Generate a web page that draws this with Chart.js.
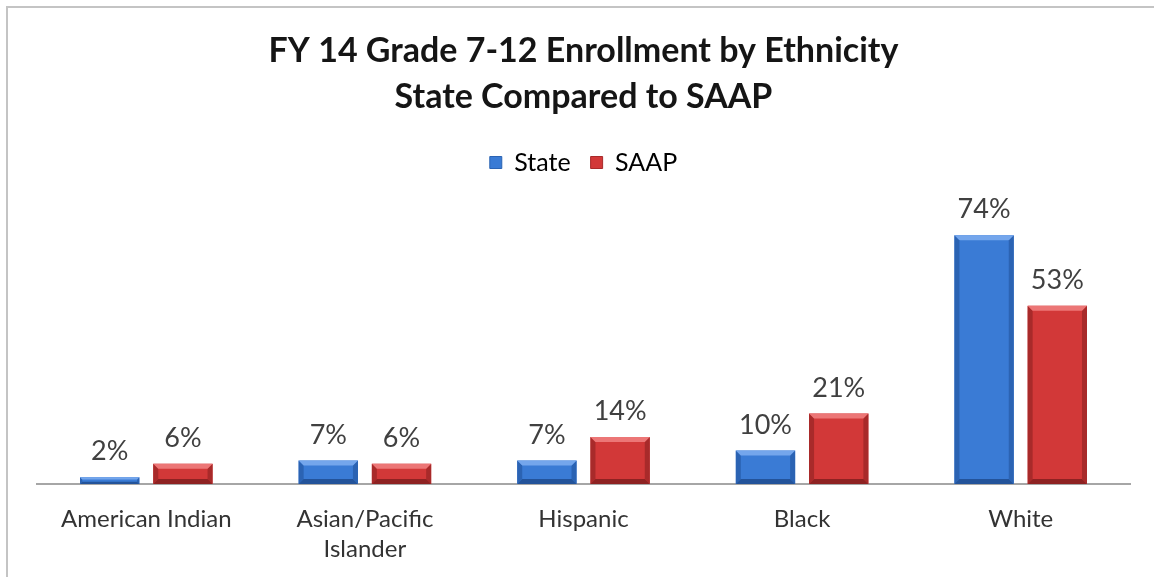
<!DOCTYPE html>
<html lang="en">
<head>
<meta charset="UTF-8">
<title>FY 14 Grade 7-12 Enrollment by Ethnicity</title>
<script src="https://cdn.jsdelivr.net/npm/chart.js"></script>
<style>
    html, body { margin: 0; padding: 0; background: #fff; }
    #wrap { width: 1154px; height: 577px; position: relative; }
</style>
</head>
<body>
<div id="wrap"><canvas id="enrollChart"></canvas></div>
<script>
// --- data ---
const categories = ['American Indian', ['Asian/Pacific', 'Islander'], 'Hispanic', 'Black', 'White'];
const stateShare = [2, 7, 7, 10, 74];
const saapShare = [6, 6, 14, 21, 53];
const seriesNames = ['State', 'SAAP'];

const FONT = 'Lato, "Open Sans", sans-serif';

// colours for the bevelled bars: base, light top, dark sides
const shades = {
    State: { base: '#3a7bd5', top: '#74a6ec', side: '#2b63b3', bottom: '#23539a' },
    SAAP:  { base: '#d23838', top: '#ec7676', side: '#a82a2a', bottom: '#8e2222' }
};

// thin frame along the top and left edge
const framePlugin = {
    id: 'frame',
    beforeDraw(chart) {
        const ctx = chart.ctx;
        ctx.save();
        ctx.strokeStyle = '#c4c4c4';
        ctx.lineWidth = 2;
        ctx.beginPath();
        ctx.moveTo(7, chart.height);
        ctx.lineTo(7, 7);
        ctx.lineTo(chart.width, 7);
        ctx.stroke();
        ctx.restore();
    }
};

// extra room under the legend before the plot starts
const legendGap = {
    id: 'legendGap',
    beforeInit(chart) {
        const fit = chart.legend.fit;
        chart.legend.fit = function () {
            fit.call(this);
            this.height += 30;
        };
    }
};

// bevel edges on each bar plus the value label above it
const bevelPlugin = {
    id: 'bevel',
    afterDatasetsDraw(chart) {
        const ctx = chart.ctx;
        chart.data.datasets.forEach((ds, di) => {
            const c = shades[ds.label];
            chart.getDatasetMeta(di).data.forEach((bar, i) => {
                const { x, y, base, width } = bar.getProps(['x', 'y', 'base', 'width'], true);
                const l = x - width / 2, r = x + width / 2;
                const h = base - y;
                const b = Math.min(5, h / 3);
                ctx.save();
                // sides
                ctx.fillStyle = c.side;
                ctx.beginPath();
                ctx.moveTo(l, y); ctx.lineTo(l + b, y + b); ctx.lineTo(l + b, base - b); ctx.lineTo(l, base);
                ctx.closePath(); ctx.fill();
                ctx.beginPath();
                ctx.moveTo(r, y); ctx.lineTo(r - b, y + b); ctx.lineTo(r - b, base - b); ctx.lineTo(r, base);
                ctx.closePath(); ctx.fill();
                // top highlight
                ctx.fillStyle = c.top;
                ctx.beginPath();
                ctx.moveTo(l, y); ctx.lineTo(r, y); ctx.lineTo(r - b, y + b); ctx.lineTo(l + b, y + b);
                ctx.closePath(); ctx.fill();
                // bottom shade
                ctx.fillStyle = c.bottom;
                ctx.beginPath();
                ctx.moveTo(l, base); ctx.lineTo(r, base); ctx.lineTo(r - b, base - b); ctx.lineTo(l + b, base - b);
                ctx.closePath(); ctx.fill();
                // value label
                ctx.fillStyle = '#404040';
                ctx.font = '27px ' + FONT;
                ctx.textAlign = 'center';
                ctx.textBaseline = 'bottom';
                ctx.fillText(ds.data[i] + '%', x, y - 12);
                ctx.restore();
            });
        });
    }
};

new Chart(document.getElementById('enrollChart'), {
    type: 'bar',
    data: {
        labels: categories,
        datasets: [
            { label: seriesNames[0], data: stateShare, backgroundColor: shades.State.base },
            { label: seriesNames[1], data: saapShare, backgroundColor: shades.SAAP.base }
        ]
    },
    options: {
        responsive: true,
        maintainAspectRatio: false,
        animation: false,
        categoryPercentage: 0.67,
        barPercentage: 0.81,
        layout: { padding: { left: 37, right: 24, top: 0, bottom: 1 } },
        plugins: {
            title: {
                display: true,
                text: ['FY 14 Grade 7-12 Enrollment by Ethnicity', 'State Compared to SAAP'],
                color: '#151515',
                font: { family: FONT, size: 34, weight: 'bold', lineHeight: 1.353 },
                padding: { top: 28, bottom: 10 }
            },
            legend: {
                display: true,
                position: 'top',
                labels: {
                    color: '#333',
                    font: { family: FONT, size: 25 },
                    boxWidth: 12,
                    boxHeight: 12,
                    padding: 20,
                    generateLabels(chart) {
                        return chart.data.datasets.map((ds, i) => ({
                            text: ds.label,
                            fillStyle: ds.backgroundColor,
                            strokeStyle: shades[ds.label].side,
                            lineWidth: 1,
                            datasetIndex: i
                        }));
                    }
                }
            },
            tooltip: { enabled: false }
        },
        scales: {
            x: {
                grid: { display: false },
                border: { display: true, color: '#a6a6a6', width: 2 },
                ticks: { color: '#333', font: { family: FONT, size: 24, lineHeight: 1.25 }, padding: 12 }
            },
            y: {
                display: false,
                min: 0,
                max: 80
            }
        }
    },
    plugins: [framePlugin, legendGap, bevelPlugin]
});
</script>
</body>
</html>
